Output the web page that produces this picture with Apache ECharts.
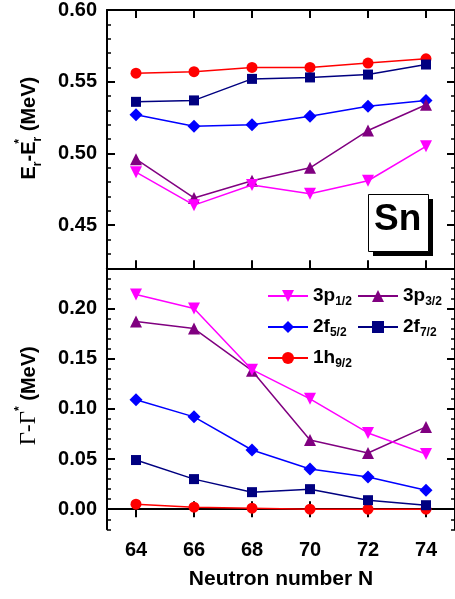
<!DOCTYPE html>
<html>
<head>
<meta charset="utf-8">
<script src="https://cdn.jsdelivr.net/npm/echarts@6/dist/echarts.min.js"></script>
<style>
html,body{margin:0;padding:0;background:#fff;}
#c{width:455px;height:599px;}
</style>
</head>
<body>
<div id="c"></div>
<script>
// ---- data ----
var neutronN = [64, 66, 68, 70, 72, 74];
var xTickValues = [64, 66, 68, 70, 72, 74];
var topTickLabels = [0.45, 0.50, 0.55, 0.60];
var bottomTickLabels = [0.00, 0.05, 0.10, 0.15, 0.20];

var names = ['3p1/2', '3p3/2', '2f5/2', '2f7/2', '1h9/2'];

var dE_3p12 = [0.487, 0.464, 0.478, 0.472, 0.481, 0.505];
var dE_3p32 = [0.496, 0.469, 0.481, 0.490, 0.516, 0.534];
var dE_2f52 = [0.527, 0.519, 0.520, 0.526, 0.533, 0.537];
var dE_2f72 = [0.536, 0.537, 0.552, 0.553, 0.555, 0.562];
var dE_1h92 = [0.556, 0.557, 0.560, 0.560, 0.563, 0.566];

var dG_3p12 = [0.214, 0.200, 0.139, 0.110, 0.076, 0.055];
var dG_3p32 = [0.187, 0.180, 0.138, 0.069, 0.056, 0.082];
var dG_2f52 = [0.109, 0.092, 0.059, 0.040, 0.032, 0.019];
var dG_2f72 = [0.049, 0.030, 0.017, 0.020, 0.009, 0.004];
var dG_1h92 = [0.005, 0.002, 0.001, 0.000, 0.000, 0.000];

var topData = [dE_3p12, dE_3p32, dE_2f52, dE_2f72, dE_1h92];
var botData = [dG_3p12, dG_3p32, dG_2f52, dG_2f72, dG_1h92];

// ---- styles ----
var colors = ['#FF00FF', '#800080', '#0000FF', '#000080', '#FF0000'];
var symbols = ['triangle', 'triangle', 'diamond', 'rect', 'circle'];
var symRot = [180, 0, 0, 0, 0];
var symSize = [12, 12, 13, 10, 11];
var FONT = 'Liberation Sans';

function pairs(arr) { return neutronN.map(function (n, i) { return [n, arr[i]]; }); }

var chart = echarts.init(document.getElementById('c'), null, {renderer: 'canvas'});

var axisLineStyle = {show: true, lineStyle: {color: '#000', width: 2}};

function xAx(grid, pos, labels, extra) {
  var o = {
    type: 'value', gridIndex: grid, position: pos, min: 63, max: 75,
    axisLine: axisLineStyle,
    axisTick: {show: true, inside: true, length: 8, customValues: xTickValues, lineStyle: {color: '#000', width: 2}},
    axisLabel: labels ? {show: true, customValues: xTickValues, fontSize: 20, fontWeight: 'bold', fontFamily: FONT, color: '#000', margin: 11} : {show: false},
    splitLine: {show: false}
  };
  if (extra) for (var k in extra) o[k] = extra[k];
  return o;
}

function yAx(grid, pos, min, max, major, kind, extra) {
  var o = {
    type: 'value', gridIndex: grid, position: pos, min: min, max: max,
    splitLine: {show: false}
  };
  if (kind === 'minor') {
    o.interval = 0.01;
    o.axisLine = axisLineStyle;
    o.axisTick = {show: true, inside: true, length: 4, lineStyle: {color: '#000', width: 1.5}};
  } else {
    o.axisLine = {show: false};
    o.axisTick = {show: true, inside: true, length: 8, customValues: major, lineStyle: {color: '#000', width: 2}};
  }
  o.axisLabel = {show: false};
  if (extra) for (var k in extra) o[k] = extra[k];
  return o;
}

var topLabel = {show: true, customValues: topTickLabels, fontSize: 20, fontWeight: 'bold', fontFamily: FONT, color: '#000', margin: 10,
  formatter: function (v) { return v.toFixed(2); }};
var botLabel = {show: true, customValues: bottomTickLabels, fontSize: 20, fontWeight: 'bold', fontFamily: FONT, color: '#000', margin: 10,
  formatter: function (v) { return v.toFixed(2); }};

var yTitleTop = {
  name: '{b|E}{sub|r}{b|-E}{sup|*}{sub|r}{b| (MeV)}',
  nameLocation: 'middle', nameRotate: 90, nameGap: 63,
  nameTextStyle: {
    padding: [0, 0, 0, 22],
    rich: {
      b: {fontSize: 20, fontWeight: 'bold', fontFamily: FONT, color: '#000', lineHeight: 30},
      sub: {fontSize: 12, fontWeight: 'bold', fontFamily: FONT, color: '#000', lineHeight: 12, verticalAlign: 'bottom'},
      sup: {fontSize: 12, fontWeight: 'bold', fontFamily: FONT, color: '#000', lineHeight: 12, verticalAlign: 'top', width: 0}
    }
  }
};
var yTitleBot = {
  name: '{g|\u0393-\u0393}{sup|*}{b| (MeV)}',
  nameLocation: 'middle', nameRotate: 90, nameGap: 63,
  nameTextStyle: {
    padding: [0, 0, 0, 6],
    rich: {
      g: {fontSize: 23, fontFamily: 'Liberation Serif', color: '#000', lineHeight: 30},
      b: {fontSize: 20, fontWeight: 'bold', fontFamily: FONT, color: '#000', lineHeight: 30},
      sup: {fontSize: 12, fontWeight: 'bold', fontFamily: FONT, color: '#000', lineHeight: 12, verticalAlign: 'top'}
    }
  }
};

var series = [];
names.forEach(function (nm, i) {
  [0, 1].forEach(function (g) {
    series.push({
      name: nm, type: 'line',
      xAxisIndex: g === 0 ? 0 : 2,
      yAxisIndex: g === 0 ? 0 : 4,
      data: pairs(g === 0 ? topData[i] : botData[i]),
      symbol: symbols[i], symbolRotate: symRot[i], symbolSize: symSize[i],
      showAllSymbol: true,
      lineStyle: {color: colors[i], width: 1.5},
      itemStyle: {color: colors[i]},
      emphasis: {disabled: true},
      animation: false,
      z: 10 - i
    });
  });
});

function legendFmt(name) {
  return '{m|' + name.slice(0, 2) + '}{s|' + name.slice(2) + '}';
}
var legendText = {
  rich: {
    m: {fontSize: 19, fontWeight: 'bold', fontFamily: FONT, color: '#000', lineHeight: 24},
    s: {fontSize: 12, fontWeight: 'bold', fontFamily: FONT, color: '#000', lineHeight: 12, verticalAlign: 'bottom'}
  }
};

var option = {
  backgroundColor: '#fff',
  animation: false,
  graphic: [
    {type: 'rect', left: 373, top: 199, z: 50, shape: {width: 60, height: 57}, style: {fill: '#000'}},
    {type: 'rect', left: 368, top: 194, z: 51, shape: {width: 60, height: 57}, style: {fill: '#fff', stroke: '#000', lineWidth: 1}},
    {type: 'text', left: 374, top: 201, z: 52, style: {text: 'Sn', fontSize: 37, fontWeight: 'bold', fontFamily: FONT, fill: '#000'}}
  ],
  legend: [
    {orient: 'vertical', left: 267, top: 286.5, padding: 0, itemGap: 9.5, itemWidth: 40, itemHeight: 15,
      data: ['3p1/2', '2f5/2', '1h9/2'], formatter: legendFmt, textStyle: legendText, selectedMode: false},
    {orient: 'vertical', left: 357, top: 286.5, padding: 0, itemGap: 9.5, itemWidth: 40, itemHeight: 15,
      data: ['3p3/2', '2f7/2'], formatter: legendFmt, textStyle: legendText, selectedMode: false}
  ],
  grid: [
    {left: 107, right: -3.6, top: 8.3, height: 260},
    {left: 107, right: -3.6, top: 268.3, height: 261}
  ],
  xAxis: [
    xAx(0, 'bottom', false),
    xAx(0, 'top', false),
    xAx(1, 'bottom', true, {name: 'Neutron number N', nameLocation: 'middle', nameGap: 39,
      nameTextStyle: {fontSize: 21, fontWeight: 'bold', fontFamily: FONT, color: '#000'}}),
    xAx(1, 'top', false)
  ],
  yAxis: [
    yAx(0, 'left', 0.42, 0.60, topTickLabels, 'minor', Object.assign({axisLabel: topLabel}, yTitleTop)),
    yAx(0, 'left', 0.42, 0.60, topTickLabels, 'major'),
    yAx(0, 'right', 0.42, 0.60, topTickLabels, 'minor'),
    yAx(0, 'right', 0.42, 0.60, topTickLabels, 'major'),
    yAx(1, 'left', -0.02, 0.24, bottomTickLabels, 'minor', Object.assign({axisLabel: botLabel}, yTitleBot)),
    yAx(1, 'left', -0.02, 0.24, bottomTickLabels, 'major'),
    yAx(1, 'right', -0.02, 0.24, bottomTickLabels, 'minor'),
    yAx(1, 'right', -0.02, 0.24, bottomTickLabels, 'major')
  ],
  series: series
};
chart.setOption(option);
</script>
</body>
</html>
